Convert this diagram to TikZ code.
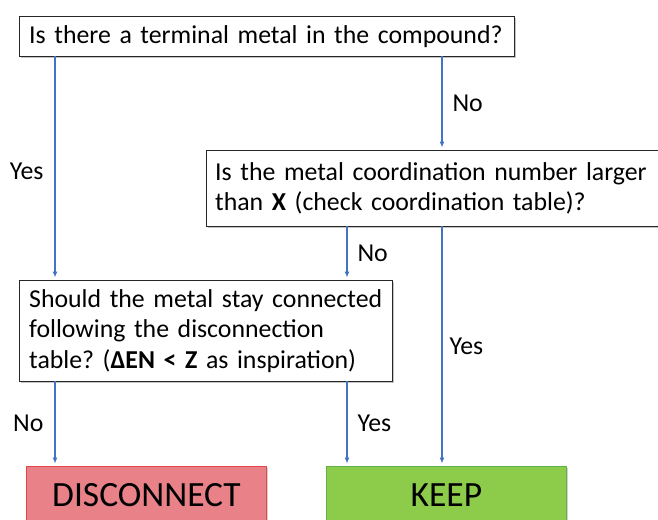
\documentclass[tikz,border=0pt]{standalone}
\usepackage{fontspec}
\setmainfont{Carlito}
\usetikzlibrary{arrows.meta}
\usetikzlibrary{shadows}
\hyphenpenalty=10000
\frenchspacing

\definecolor{flowblue}{RGB}{68,114,196}
\definecolor{discfill}{RGB}{232,130,136}
\definecolor{discline}{RGB}{226,70,70}
\definecolor{keepfill}{RGB}{140,204,74}
\definecolor{keepline}{RGB}{96,178,72}

\tikzset{
	question/.style={draw=black!85, fill=white, anchor=north west, align=left, inner ysep=0pt, inner xsep=10pt,
		font=\fontsize{25.8}{30.5}\selectfont,
		drop shadow={shadow xshift=2pt, shadow yshift=-2pt, fill=black!45}},
	result/.style={anchor=north west, minimum width=240pt, minimum height=58pt, line width=0.8pt,
		font=\fontsize{35.5}{40}\selectfont,
		drop shadow={shadow xshift=2pt, shadow yshift=-2pt, fill=black!35}},
	flow/.style={draw=flowblue, line width=1.1pt, -{Latex[length=6pt,width=5pt]}, shorten >=2.5pt},
	answer/.style={font=\fontsize{25.8}{30}\selectfont, inner sep=0pt}
}

\begin{document}
\begin{tikzpicture}[x=1pt,y=-1pt]
	\useasboundingbox (0,0) rectangle (658,519);

	% questions
	\node[question, text width=475pt, minimum height=40pt] (q1) at (19,16) {Is there a terminal metal in the compound?};
	\node[question, inner xsep=9pt, text width=438pt, minimum height=76pt] (q2) at (206,150)
		{Is the metal coordination number larger\\than \textbf{X} (check coordination table)?};
	\node[question, text width=353pt, minimum height=101pt] (q3) at (19,280)
		{Should the metal stay connected\\following the disconnection\\table? (\textbf{ΔEN < Z} as inspiration)};

	% outcomes
	\node[result, fill=discfill, draw=discline] (disc) at (26,466) {DISCONNECT};
	\node[result, fill=keepfill, draw=keepline] (keep) at (326,466) {KEEP};

	\coordinate (colA) at (55,0);
	\coordinate (colB) at (347,0);
	\coordinate (colC) at (442,0);

	\draw[flow] (q1.south -| colA) -- node[answer, left=11pt, yshift=-3pt]{Yes} (q3.north -| colA);
	\draw[flow] (q1.south -| colC) -- node[answer, right=10pt]{No} (q2.north -| colC);
	\draw[flow] (q2.south -| colB) -- node[answer, right=10pt]{No} (q3.north -| colB);
	\draw[flow] (q2.south -| colC) -- node[answer, right=7pt]{Yes} (keep.north -| colC);
	\draw[flow] (q3.south -| colA) -- node[answer, left=11pt]{No} (disc.north -| colA);
	\draw[flow] (q3.south -| colB) -- node[answer, right=10pt]{Yes} (keep.north -| colB);
\end{tikzpicture}
\end{document}
